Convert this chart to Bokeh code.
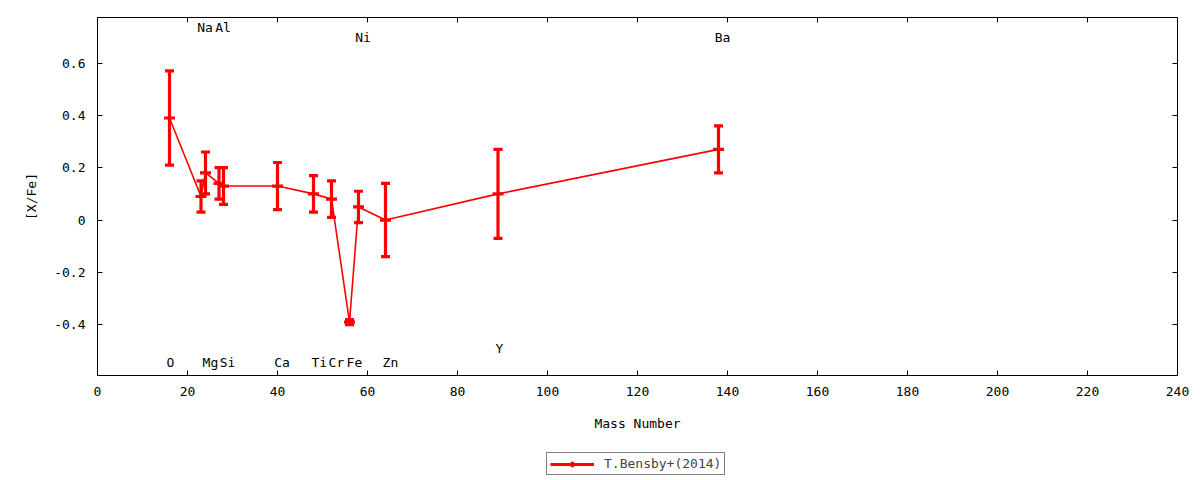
from bokeh.plotting import figure
from bokeh.layouts import column
from bokeh.models import (Range1d, FixedTicker, LinearAxis, Whisker, TeeHead,
                          ColumnDataSource, Legend, LegendItem)
from bokeh.core.properties import value
from bokeh.embed import file_html
from bokeh.resources import INLINE

# ---------------- data ----------------
elements = ["O", "Na", "Mg", "Al", "Si", "Ca", "Ti", "Cr", "Fe", "Ni", "Zn", "Y", "Ba"]
mass = [16, 23, 24, 27, 28, 40, 48, 52, 56, 58, 64, 89, 138]
x_fe = [0.39, 0.09, 0.18, 0.14, 0.13, 0.13, 0.10, 0.08, -0.39, 0.05, 0.00, 0.10, 0.27]
x_fe_err = [0.18, 0.06, 0.08, 0.06, 0.07, 0.09, 0.07, 0.07, 0.01, 0.06, 0.14, 0.17, 0.09]

# element name labels (positions, data units)
label_text = ["O", "Na", "Mg", "Al", "Si", "Ca", "Ti", "Cr", "Fe", "Ni", "Zn", "Y", "Ba"]
label_x = [16.2, 23.9, 25.1, 27.9, 28.9, 41.0, 49.3, 53.1, 57.1, 59.0, 65.1, 89.3, 138.9]
label_y = [-0.546, 0.737, -0.546, 0.737, -0.546, -0.546, -0.546, -0.546, -0.546,
           0.698, -0.546, -0.492, 0.698]

x_ticks = [0, 20, 40, 60, 80, 100, 120, 140, 160, 180, 200, 220, 240]
y_ticks = [-0.4, -0.2, 0, 0.2, 0.4, 0.6]
y_tick_labels = ["-0.4", "-0.2", "0", "0.2", "0.4", "0.6"]

series_name = "T.Bensby+(2014)"
x_title = "Mass Number"
y_title = "[X/Fe]"

# ---------------- style ----------------
FONT = "DejaVu Sans Mono"
FS = "13px"
RED = "#ff0000"

p = figure(frame_width=1080, frame_height=358, output_backend="svg", toolbar_location=None,
           x_range=Range1d(0, 240), y_range=Range1d(-0.594, 0.774),
           min_border_left=97, min_border_right=23, min_border_top=17,
           min_border_bottom=73, x_axis_label=x_title, y_axis_label=y_title)

p.xgrid.visible = False
p.ygrid.visible = False
p.outline_line_color = "black"
p.outline_line_width = 1
p.background_fill_color = "white"
p.border_fill_color = "white"

for ax in (p.xaxis[0], p.yaxis[0]):
    ax.axis_line_color = "black"
    ax.major_tick_in = 5
    ax.major_tick_out = 0
    ax.minor_tick_line_color = None
    ax.major_label_text_font = FONT
    ax.major_label_text_font_size = FS
    ax.major_label_text_color = "black"
    ax.axis_label_text_font = FONT
    ax.axis_label_text_font_size = FS
    ax.axis_label_text_font_style = "normal"
    ax.axis_label_text_color = "black"

p.xaxis[0].ticker = FixedTicker(ticks=x_ticks)
p.xaxis[0].major_label_standoff = 11
p.xaxis[0].axis_label_standoff = 17
p.yaxis[0].ticker = FixedTicker(ticks=y_ticks)
p.yaxis[0].major_label_overrides = {t: s for t, s in zip(y_ticks, y_tick_labels)}
p.yaxis[0].major_label_standoff = 12
p.yaxis[0].axis_label_standoff = 12

# mirror ticks on top and right (no labels)
top_ax = LinearAxis(ticker=FixedTicker(ticks=x_ticks), major_tick_in=5, major_tick_out=0,
                    minor_tick_line_color=None,
                    major_label_overrides={t: "" for t in x_ticks},
                    major_label_standoff=0, axis_line_color=None)
right_ax = LinearAxis(ticker=FixedTicker(ticks=y_ticks), major_tick_in=5, major_tick_out=0,
                      minor_tick_line_color=None,
                      major_label_overrides={t: "" for t in y_ticks},
                      major_label_standoff=0, axis_line_color=None)
p.add_layout(top_ax, "above")
p.add_layout(right_ax, "right")

src = ColumnDataSource(dict(
    mass=mass, val=x_fe,
    upper=[v + e for v, e in zip(x_fe, x_fe_err)],
    lower=[v - e for v, e in zip(x_fe, x_fe_err)],
))

line_r = p.line("mass", "val", source=src, line_color=RED, line_width=1.6)
p.add_layout(Whisker(base="mass", upper="upper", lower="lower", source=src,
                     line_color=RED, line_width=3.2,
                     upper_head=TeeHead(size=9, line_color=RED, line_width=3.2),
                     lower_head=TeeHead(size=9, line_color=RED, line_width=3.2)))
pt_r = p.scatter("mass", "val", source=src, marker="dash", size=11,
                 line_color=RED, line_width=3.2)

lab_src = ColumnDataSource(dict(x=label_x, y=label_y, t=label_text))
p.text("x", "y", text="t", source=lab_src, text_font=value(FONT), text_font_size=FS,
       text_align="center", text_baseline="middle", text_color="black")

# ---------------- legend strip below the plot ----------------
leg = figure(width=1200, height=32, output_backend="svg", toolbar_location=None,
             x_range=Range1d(0, 1), y_range=Range1d(0, 1), min_border=0)
leg.axis.visible = False
leg.xgrid.visible = False
leg.ygrid.visible = False
leg.outline_line_color = None
leg.border_fill_color = "white"
leg_src = ColumnDataSource(dict(x=[float("nan")], y=[float("nan")]))
leg_line = leg.line("x", "y", source=leg_src, line_color=RED, line_width=3.2)
leg_pt = leg.scatter("x", "y", source=leg_src, marker="cross", size=11,
                     line_color=RED, line_width=3.2)
legend = Legend(items=[LegendItem(label=series_name, renderers=[leg_line, leg_pt])],
                location=(449, 5), orientation="horizontal",
                border_line_color="black", border_line_width=1,
                background_fill_color="white", background_fill_alpha=1,
                label_text_font=FONT, label_text_font_size=FS,
                glyph_width=44, glyph_height=14, padding=3, margin=0,
                label_standoff=10, label_height=14)
leg.add_layout(legend, "center")

layout = column(p, leg, spacing=0)
open("out.html", "w").write(file_html(layout, INLINE))
